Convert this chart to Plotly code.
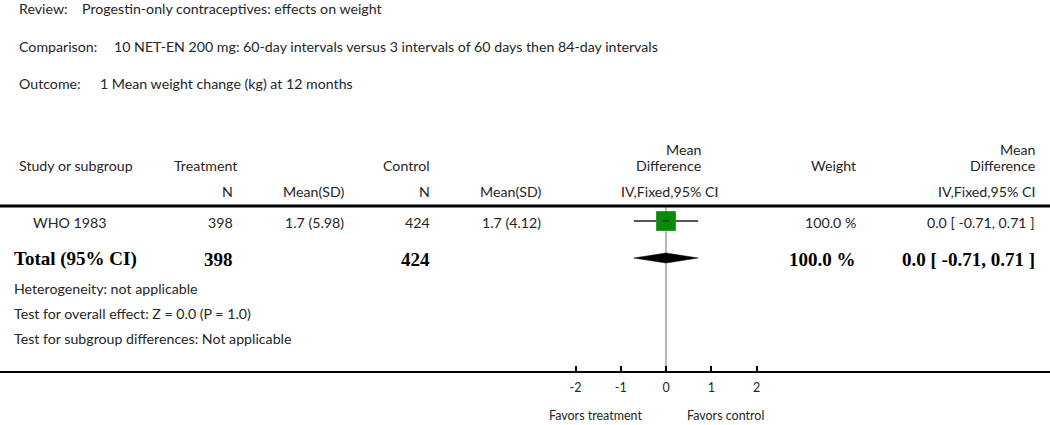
import plotly.graph_objects as go

# ---------------- data ----------------
review = "Progestin-only contraceptives: effects on weight"
comparison = "10 NET-EN 200 mg: 60-day intervals versus 3 intervals of 60 days then 84-day intervals"
outcome = "1 Mean weight change (kg) at 12 months"

studies = ["WHO 1983"]
treat_n = [398]
treat_mean = [1.7]
treat_sd = [5.98]
ctrl_n = [424]
ctrl_mean = [1.7]
ctrl_sd = [4.12]
md = [0.0]
ci_lo = [-0.71]
ci_hi = [0.71]
weights = [100.0]

total_treat_n = 398
total_ctrl_n = 424
total_md = 0.0
total_lo = -0.71
total_hi = 0.71
total_weight = 100.0

heterogeneity = "Heterogeneity: not applicable"
overall = "Test for overall effect: Z = 0.0 (P = 1.0)"
subgroup = "Test for subgroup differences: Not applicable"

tick_vals = [-2, -1, 0, 1, 2]
tick_text = ["-2", "-1", "0", "1", "2"]
favors_left = "Favors treatment"
favors_right = "Favors control"

# ---------------- layout constants ----------------
W, H = 1050, 425
AXIS_Y = 371            # pixel row of the bottom axis line
ZERO_PX = 666           # pixel column of x = 0
PX_PER_UNIT = 45.25
x_min = -ZERO_PX / PX_PER_UNIT
x_max = (W - ZERO_PX) / PX_PER_UNIT

FONT = "Lato, 'Open Sans', sans-serif"
SERIF = "'Liberation Serif', 'DejaVu Serif', serif"
TXT = "#262626"
FS = 14.2
BFS = 19

annotations = []


def text(px, py, s, anchor="left", size=FS, family=FONT, bold=False, color=TXT):
    if bold:
        s = "<b>" + s + "</b>"
    annotations.append(dict(
        x=px / W, y=(AXIS_Y - py) / AXIS_Y, xref="paper", yref="paper",
        text=s, showarrow=False, xanchor=anchor, yanchor="middle",
        font=dict(family=family, size=size, color=color),
    ))


# header block
text(17, 8, "Review:")
text(80, 8, review)
text(17, 46, "Comparison:")
text(112, 46, comparison)
text(17, 84, "Outcome:")
text(98, 84, outcome)

# column headers
text(17, 165, "Study or subgroup")
text(172, 165, "Treatment")
text(432, 165, "Control", anchor="right")
text(703, 149, "Mean", anchor="right")
text(703, 165, "Difference", anchor="right")
text(858, 165, "Weight", anchor="right")
text(1037, 149, "Mean", anchor="right")
text(1037, 165, "Difference", anchor="right")

text(235, 191, "N", anchor="right")
text(346, 191, "Mean(SD)", anchor="right")
text(432, 191, "N", anchor="right")
text(543, 191, "Mean(SD)", anchor="right")
text(720, 191, "IV,Fixed,95% CI", anchor="right")
text(1037, 191, "IV,Fixed,95% CI", anchor="right")

# study rows
ROW_Y = [221]
for i, s in enumerate(studies):
    y = ROW_Y[i]
    text(31, y + 1, s)
    text(235, y + 1, f"{treat_n[i]}", anchor="right")
    text(346, y + 1, f"{treat_mean[i]:.1f} ({treat_sd[i]:.2f})", anchor="right")
    text(432, y + 1, f"{ctrl_n[i]}", anchor="right")
    text(543, y + 1, f"{ctrl_mean[i]:.1f} ({ctrl_sd[i]:.2f})", anchor="right")
    text(858, y + 1, f"{weights[i]:.1f} %", anchor="right")
    text(1037, y + 1, f"{md[i]:.1f} [ {ci_lo[i]:.2f}, {ci_hi[i]:.2f} ]", anchor="right")

# total row
TOT_Y = 258
text(12, TOT_Y + 1, "Total (95% CI)", family=SERIF, size=BFS, bold=True, color="#000")
text(235, TOT_Y + 1, f"{total_treat_n}", anchor="right", family=SERIF, size=BFS, bold=True, color="#000")
text(432, TOT_Y + 1, f"{total_ctrl_n}", anchor="right", family=SERIF, size=BFS, bold=True, color="#000")
text(858, TOT_Y + 1, f"{total_weight:.1f} %", anchor="right", family=SERIF, size=BFS, bold=True, color="#000")
text(1037, TOT_Y + 1, f"{total_md:.1f} [ {total_lo:.2f}, {total_hi:.2f} ]", anchor="right",
     family=SERIF, size=BFS, bold=True, color="#000")

text(12, 288, heterogeneity)
text(12, 313, overall)
text(12, 338, subgroup)

# favours labels
text(596, 415, favors_left, anchor="center", size=12.5)
text(725, 415, favors_right, anchor="center", size=12.5)

fig = go.Figure()

# zero line
fig.add_trace(go.Scatter(x=[0, 0], y=[207, AXIS_Y], mode="lines",
                         line=dict(color="#8a8a8a", width=1.2), hoverinfo="skip"))

# study CI lines and squares
for i in range(len(studies)):
    fig.add_trace(go.Scatter(x=[ci_lo[i], ci_hi[i]], y=[ROW_Y[i], ROW_Y[i]], mode="lines",
                             line=dict(color="#555555", width=2), hoverinfo="skip"))
fig.add_trace(go.Scatter(x=md, y=ROW_Y, mode="markers",
                         marker=dict(symbol="square", size=19, color="#0a8a0a",
                                     line=dict(color="#2f9a2f", width=1)),
                         hoverinfo="skip"))
fig.add_trace(go.Scatter(x=md, y=ROW_Y, mode="markers",
                         marker=dict(symbol="line-ew", size=4, line=dict(color="#333", width=1.5)),
                         hoverinfo="skip"))

# total diamond
fig.add_trace(go.Scatter(x=[total_lo, total_md, total_hi, total_md, total_lo],
                         y=[TOT_Y, TOT_Y - 5, TOT_Y, TOT_Y + 5, TOT_Y],
                         mode="lines", fill="toself", fillcolor="black",
                         line=dict(color="black", width=0.5), hoverinfo="skip"))

# header separator
shapes = [dict(type="line", xref="paper", yref="y", x0=0, x1=1, y0=206, y1=206,
               line=dict(color="black", width=2.8))]

fig.update_layout(
    width=W, height=H,
    margin=dict(l=0, r=0, t=0, b=H - AXIS_Y, pad=0),
    paper_bgcolor="white", plot_bgcolor="white",
    showlegend=False,
    annotations=annotations,
    shapes=shapes,
    xaxis=dict(range=[x_min, x_max], showgrid=False, zeroline=False,
               showline=True, linecolor="black", linewidth=2,
               tickvals=tick_vals, ticktext=tick_text,
               ticks="inside", ticklen=5, tickwidth=2, tickcolor="black",
               ticklabelstandoff=4,
               tickfont=dict(family=FONT, size=12.5, color=TXT), fixedrange=True),
    yaxis=dict(range=[AXIS_Y, 0], visible=False, showgrid=False, zeroline=False, fixedrange=True),
)

fig.write_html("out.html", config={"displayModeBar": False},
               post_script="document.body.style.margin='0';")
